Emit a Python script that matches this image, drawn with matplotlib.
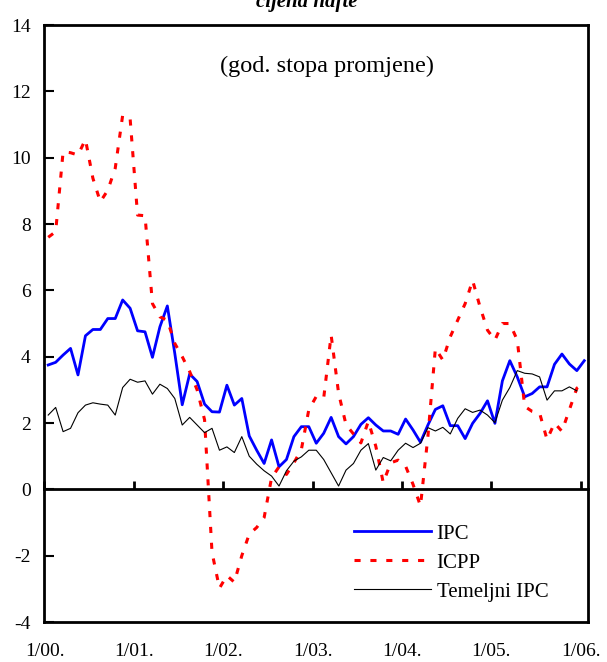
import numpy as np
import matplotlib
matplotlib.use("Agg")
import matplotlib.pyplot as plt

plt.rcParams["font.family"] = ["Liberation Serif", "DejaVu Serif"]

# monthly data, 1/00. .. 1/06.
ipc = [3.75, 3.83, 4.05, 4.25, 3.45, 4.63, 4.82, 4.82, 5.15, 5.15, 5.71, 5.46,
       4.78, 4.75, 3.98, 4.9, 5.53, 4.1, 2.55, 3.48, 3.25, 2.57, 2.34, 2.33,
       3.14, 2.54, 2.74, 1.61, 1.18, 0.78, 1.49, 0.68, 0.9, 1.59, 1.89, 1.89,
       1.39, 1.69, 2.17, 1.59, 1.37, 1.59, 1.96, 2.16, 1.94, 1.76, 1.76, 1.66,
       2.12, 1.79, 1.42, 1.94, 2.41, 2.52, 1.92, 1.92, 1.53, 1.99, 2.29, 2.67,
       1.99, 3.27, 3.88, 3.39, 2.79, 2.89, 3.09, 3.09, 3.77, 4.08, 3.78, 3.58,
       3.88]
icpp = [7.6, 7.77, 10.18, 10.15, 10.08, 10.55, 9.38, 8.67, 9.02, 9.68, 11.28, 11.18,
        8.27, 8.25, 5.6, 5.2, 5.1, 4.4, 4.0, 3.55, 3.0, 2.1, -1.9, -2.98,
        -2.6, -2.8, -2.0, -1.35, -1.15, -0.85, 0.35, 0.68, 0.45, 0.8, 1.2, 2.4,
        2.8, 2.75, 4.65, 2.9, 1.95, 1.67, 1.4, 2.05, 1.3, 0.2, 0.8, 0.88,
        0.7, 0.15, -0.5, 1.6, 4.25, 3.9, 4.6, 5.1, 5.6, 6.3, 5.5, 4.8,
        4.5, 5.0, 5.0, 4.5, 2.5, 2.35, 2.3, 1.5, 2.0, 1.75, 2.4, 3.05,
        3.2]
temeljni = [2.24, 2.47, 1.74, 1.84, 2.31, 2.54, 2.61, 2.57, 2.54, 2.24, 3.07, 3.32,
            3.23, 3.27, 2.87, 3.17, 3.04, 2.74, 1.94, 2.17, 1.94, 1.71, 1.84, 1.18,
            1.28, 1.11, 1.59, 1.0, 0.76, 0.56, 0.4, 0.1, 0.56, 0.85, 0.98, 1.18,
            1.18, 0.9, 0.5, 0.1, 0.58, 0.78, 1.18, 1.38, 0.58, 0.96, 0.86, 1.18,
            1.39, 1.26, 1.39, 1.86, 1.76, 1.87, 1.67, 2.14, 2.43, 2.32, 2.39, 2.24,
            2.01, 2.69, 3.07, 3.58, 3.5, 3.48, 3.39, 2.69, 2.97, 2.97, 3.09, 2.97]

year_labels = ["1/00.", "1/01.", "1/02.", "1/03.", "1/04.", "1/05.", "1/06."]

fig = plt.figure(figsize=(6.07, 6.62), dpi=100)
ax = fig.add_axes([0.0733, 0.0604, 0.8954, 0.9018])

# points sit in the middle of each month
ax.plot(np.arange(len(ipc)) + 0.5, ipc, color="#0000ff", lw=2.0, label="IPC")
ax.plot(np.arange(len(icpp)) + 0.5, icpp, color="#ff0000", lw=2.2,
        linestyle=(0, (2.0, 3.2)), label="ICPP")
ax.plot(np.arange(len(temeljni)) + 0.5, temeljni, color="black", lw=0.8,
        label="Temeljni IPC")

ax.set_xlim(0, 73)
ax.set_ylim(-4, 14)
ax.set_yticks(np.arange(-4, 15, 2))
ax.set_yticklabels([str(v) for v in range(-4, 15, 2)])
ax.tick_params(axis="y", direction="in", length=7, width=1.5, pad=10, labelsize=14)

year_ticks = np.arange(0, 73, 12)
ax.set_xticks(year_ticks)
ax.set_xticklabels(year_labels)
ax.tick_params(axis="x", length=0, pad=15, labelsize=14)

for sp in ax.spines.values():
    sp.set_linewidth(2)

# category axis crossing at zero
sec = ax.secondary_xaxis(4 / 18)
sec.set_xticks(year_ticks)
sec.xaxis.set_ticks_position("bottom")
sec.tick_params(direction="in", length=6, width=2, labelbottom=False, labeltop=False)
for sp in sec.spines.values():
    sp.set_linewidth(2)

ax.text(0.52, 0.93, "(god. stopa promjene)", transform=ax.transAxes,
        ha="center", va="center", fontsize=17.5)

leg = ax.legend(loc="upper left", bbox_to_anchor=(0.57, 0.164), frameon=False,
                fontsize=15, handlelength=3.7, handletextpad=0.25,
                labelspacing=0.45, borderpad=0, borderaxespad=0)

fig.text(0.506, 1 - 7 / 662, "cijena nafte", ha="center", va="baseline",
         fontsize=15, fontweight="bold", fontstyle="italic")

fig.savefig("out.png", dpi=100)
